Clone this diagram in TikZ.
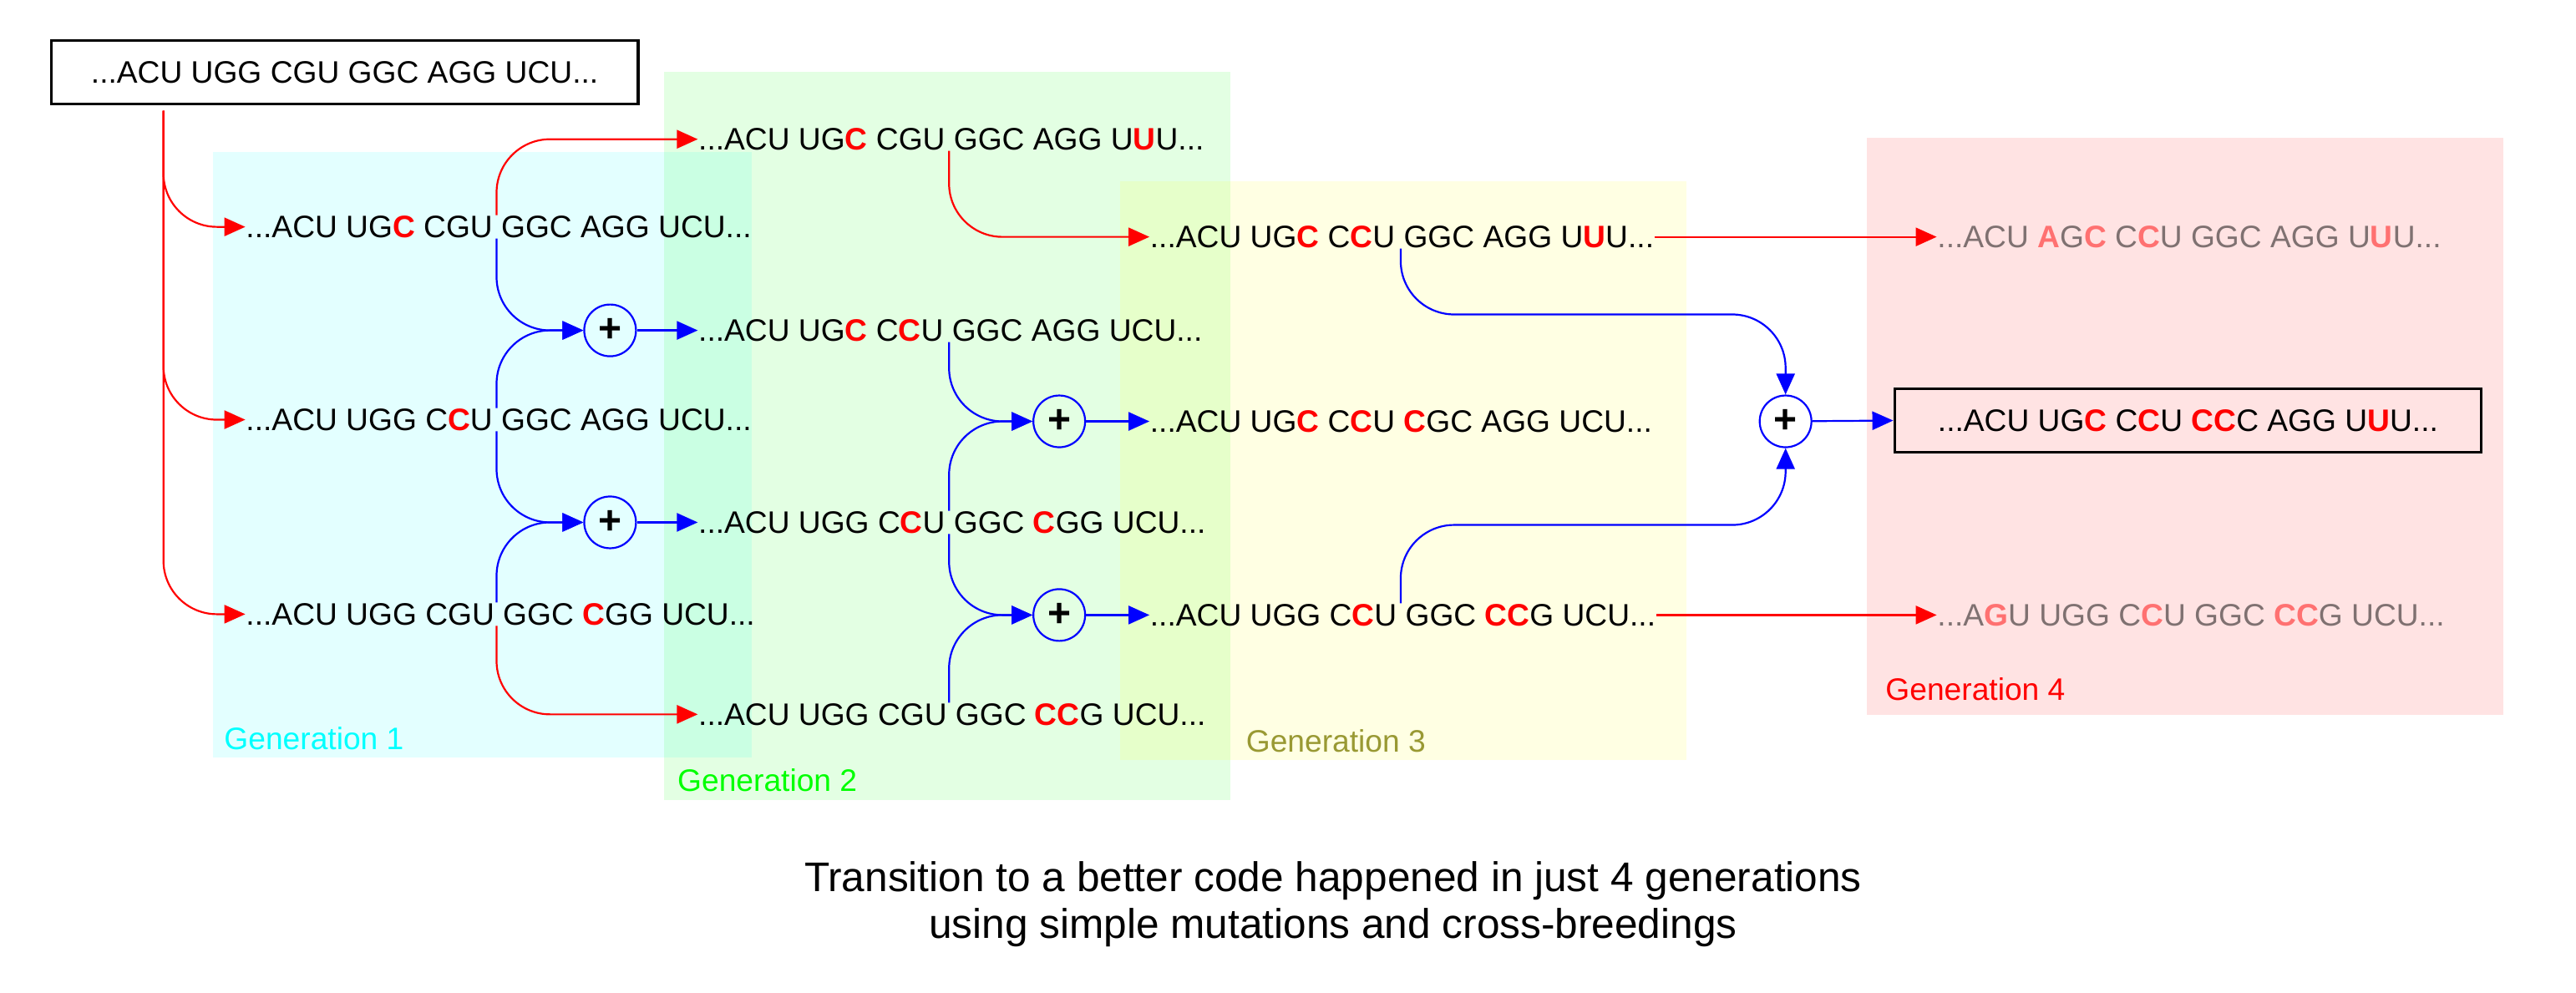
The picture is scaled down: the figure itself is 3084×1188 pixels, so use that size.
\documentclass[tikz,border=0pt]{standalone}
\usepackage{fontspec}
\setmainfont{Liberation Sans}
\usetikzlibrary{arrows.meta,calc}
\newcommand{\mut}[1]{\textcolor{red}{\textbf{#1}}}
\definecolor{gencyan}{RGB}{0,255,255}
\definecolor{gengreen}{RGB}{0,255,0}
\definecolor{genyellow}{RGB}{255,255,0}
\definecolor{genolive}{RGB}{153,153,51}

\begin{document}
\begin{tikzpicture}[x=0.25pt,y=0.25pt,
  seq/.style={anchor=west,inner sep=0pt,font=\fontsize{9.3}{11}\selectfont},
  faded/.style={seq,text opacity=0.5},
  framed/.style={draw=black,line width=0.8pt,minimum width=175.75pt,minimum height=19pt,inner sep=0pt,font=\fontsize{9.3}{11}\selectfont},
  genlabel/.style={anchor=west,inner sep=0pt,font=\fontsize{9.3}{11}\selectfont},
  genbox/.style={fill=#1,fill opacity=0.11,draw=none},
  cross/.style={circle,draw=blue,line width=0.55pt,minimum size=15.5pt,inner sep=0pt,font=\fontsize{12}{12}\selectfont\bfseries},
  mutline/.style={draw=red,line width=0.55pt,rounded corners=16pt,-{Triangle[length=6.25pt,width=5.5pt]}},
  crossline/.style={draw=blue,line width=0.55pt,rounded corners=16pt,-{Triangle[length=6.25pt,width=5.5pt]}}]
\filldraw[color=white] (0,0) rectangle (3084,1188);
% Generation backgrounds
\path[genbox=gencyan] (254,281) rectangle (900,1007);
\path[genbox=gengreen] (795,230) rectangle (1473,1103);
\path[genbox=genyellow] (1341,278) rectangle (2019,972);
\path[genbox=red] (2235,332) rectangle (2998,1024);
\node[genlabel,text=gencyan] (gen1) at (267,304) {Generation 1};
\node[genlabel,text=gengreen] (gen2) at (810,254) {Generation 2};
\node[genlabel,text=genolive] (gen3) at (1491,301) {Generation 3};
\node[genlabel,text=red] (gen4) at (2257,363) {Generation 4};
% Start code
\node[framed] (start) at (412,1102) {...ACU UGG CGU GGC AGG UCU...};
\coordinate (fork) at (195,1056);
% Generation 1
\node[seq] (S1a) at (293,917) {...ACU UG\mut{C} CGU GGC AGG UCU...};
\node[seq] (S1b) at (293,686) {...ACU UGG C\mut{C}U GGC AGG UCU...};
\node[seq] (S1c) at (293,453) {...ACU UGG CGU GGC \mut{C}GG UCU...};
% Generation 2
\node[seq] (S2a) at (835,1022) {...ACU UG\mut{C} CGU GGC AGG U\mut{U}U...};
\node[seq] (S2b) at (835,793) {...ACU UG\mut{C} C\mut{C}U GGC AGG UCU...};
\node[seq] (S2c) at (835,563) {...ACU UGG C\mut{C}U GGC \mut{C}GG UCU...};
\node[seq] (S2d) at (835,333) {...ACU UGG CGU GGC \mut{CC}G UCU...};
% Generation 3
\node[seq] (S3a) at (1376,905) {...ACU UG\mut{C} C\mut{C}U GGC AGG U\mut{U}U...};
\node[seq] (S3b) at (1376,684) {...ACU UG\mut{C} C\mut{C}U \mut{C}GC AGG UCU...};
\node[seq] (S3c) at (1376,452) {...ACU UGG C\mut{C}U GGC \mut{CC}G UCU...};
% Generation 4
\node[faded] (S4a) at (2319,905) {...ACU \mut{A}G\mut{C} C\mut{C}U GGC AGG U\mut{U}U...};
\node[framed] (S4b) at (2620,685) {...ACU UG\mut{C} C\mut{C}U \mut{CC}C AGG U\mut{U}U...};
\node[faded] (S4c) at (2319,452) {...A\mut{G}U UGG C\mut{C}U GGC \mut{CC}G UCU...};
% Cross-breedings
\node[cross] (P1) at (730,793) {+};
\node[cross] (P2) at (730,563) {+};
\node[cross] (P3) at (1268,684) {+};
\node[cross] (P4) at (1268,452) {+};
\node[cross] (P5) at (2138,684) {+};
% Split points between third and fourth codon
\foreach \s in {S1a,S1b,S1c,S2a,S2b,S2c,S2d,S3a,S3c}{
  \coordinate (\s-up) at ($(\s.north west)+(301,0)$);
  \coordinate (\s-dn) at ($(\s.south west)+(301,0)$);
}
% Drawing connectors
\draw[mutline] (fork) |- (S1a.west);
\draw[mutline] (fork) |- (S1b.west);
\draw[mutline] (fork) |- (S1c.west);
% Generation 1 to 2
\draw[mutline] (S1a-up) |- (S2a.west);
\draw[crossline] (S1a-dn) |- (P1.west);
\draw[crossline] (S1b-up) |- (P1.west);
\draw[crossline] (S1b-dn) |- (P2.west);
\draw[crossline] (S1c-up) |- (P2.west);
\draw[mutline] (S1c-dn) |- (S2d.west);
\draw[crossline] (P1) -- (S2b.west);
\draw[crossline] (P2) -- (S2c.west);
% Generation 2 to 3
\draw[mutline] (S2a-dn) |- (S3a.west);
\draw[crossline] (S2b-dn) |- (P3.west);
\draw[crossline] (S2c-up) |- (P3.west);
\draw[crossline] (S2c-dn) |- (P4.west);
\draw[crossline] (S2d-up) |- (P4.west);
\draw[crossline] (P3) -- (S3b.west);
\draw[crossline] (P4) -- (S3c.west);
% Generation 3 to 4
\draw[mutline] (S3a.east) -- (S4a.west);
\draw[mutline] (S3c.east) -- (S4c.west);
\draw[crossline] (S3a-dn) |- ([yshift=24pt]P5.north) -- (P5.north);
\draw[crossline] (S3c-up) |- ([yshift=-23pt]P5.south) -- (P5.south);
\draw[crossline] (P5) -- (S4b.west);
% Caption
\node[align=center,font=\fontsize{12.4}{14}\selectfont] (caption) at (1596,106)
  {Transition to a better code happened in just 4 generations\\using simple mutations and cross-breedings};
\end{tikzpicture}
\end{document}
